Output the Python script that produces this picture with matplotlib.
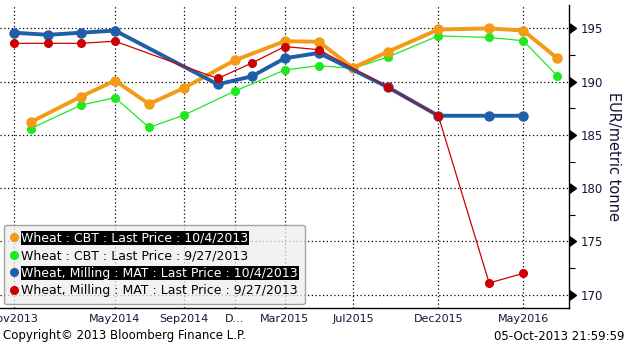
import matplotlib
matplotlib.use("Agg")
import matplotlib.pyplot as plt
import matplotlib.dates as mdates
from matplotlib.lines import Line2D
from matplotlib.markers import CARETRIGHTBASE
import numpy as np
import pandas as pd

# ---- data ----
cbt_dates = ["2013-12-01", "2014-03-01", "2014-05-01", "2014-07-01", "2014-09-01",
             "2014-12-01", "2015-03-01", "2015-05-01", "2015-07-01", "2015-09-01",
             "2015-12-01", "2016-03-01", "2016-05-01", "2016-07-01"]
cbt_1004 = [186.2, 188.6, 190.1, 187.9, 189.4, 192.0, 193.8, 193.75, 191.3, 192.8,
            194.9, 195.0, 194.8, 192.2]
cbt_0927 = [185.6, 187.8, 188.5, 185.7, 186.85, 189.1, 191.1, 191.5, 191.25, 192.3,
            194.3, 194.15, 193.85, 190.55]

mat_dates = ["2013-11-01", "2014-01-01", "2014-03-01", "2014-05-01", "2014-11-01",
             "2015-01-01", "2015-03-01", "2015-05-01", "2015-09-01", "2015-12-01",
             "2016-03-01", "2016-05-01"]
mat_1004 = [194.6, 194.4, 194.6, 194.8, 189.75, 190.5, 192.2, 192.7, 189.5, 186.8,
            186.8, 186.8]
mat_0927 = [193.6, 193.6, 193.6, 193.8, 190.3, 191.75, 193.3, 193.0, 189.5, 186.8,
            171.1, 172.0]

labels = ["Wheat : CBT : Last Price : 10/4/2013",
          "Wheat : CBT : Last Price : 9/27/2013",
          "Wheat, Milling : MAT : Last Price : 10/4/2013",
          "Wheat, Milling : MAT : Last Price : 9/27/2013"]

xtick_dates = ["2013-11-01", "2014-05-01", "2014-09-01", "2014-12-01", "2015-03-01",
               "2015-07-01", "2015-12-01", "2016-05-01"]
xtick_labels = ["Nov2013", "May2014", "Sep2014", "D...", "Mar2015", "Jul2015",
                "Dec2015", "May2016"]
ytick_major = [170, 175, 180, 185, 190, 195]
ytick_minor = [172.5, 177.5, 182.5, 187.5, 192.5]

# ---- style ----
c_orange = "#f39a16"
c_green = "#1ee81e"
c_blue = "#1f5fa8"
c_red = "#cc0000"
txt_color = "#141438"

fig = plt.figure(figsize=(6.28, 3.48), dpi=100)
ax = fig.add_axes([0.0, 1 - 308 / 348, 569 / 628, 303 / 348])

cd = pd.to_datetime(cbt_dates)
md = pd.to_datetime(mat_dates)

ax.plot(cd, cbt_0927, color=c_green, lw=0.9, marker="o", ms=5.5, zorder=3)
ax.plot(cd, cbt_1004, color=c_orange, lw=2.8, marker="o", ms=6.5, zorder=4)
ax.plot(md, mat_1004, color=c_blue, lw=2.8, marker="o", ms=6.5, zorder=5)
ax.plot(md, mat_0927, color=c_red, lw=0.9, marker="o", ms=5.5, zorder=6)

ax.set_xlim(pd.Timestamp("2013-10-07"), pd.Timestamp("2016-07-22"))
ax.set_ylim(168.75, 197.2)

ax.set_xticks(pd.to_datetime(xtick_dates))
ax.set_xticklabels(xtick_labels)
ax.set_yticks(ytick_major)
ax.set_yticks(ytick_minor, minor=True)
ax.yaxis.tick_right()
ax.yaxis.set_label_position("right")

ax.tick_params(axis="x", length=0, pad=4, labelsize=8, labelcolor=txt_color)
ax.tick_params(axis="y", which="major", length=0, pad=8.5, labelsize=8.5,
               labelcolor=txt_color)
ax.tick_params(axis="y", which="minor", length=4, width=0.8, color="black",
               direction="out")

for s in ["left", "top"]:
    ax.spines[s].set_visible(False)
for s in ["right", "bottom"]:
    ax.spines[s].set_color("black")
    ax.spines[s].set_linewidth(1.0)

ax.grid(True, which="major", color="black", linestyle=(0, (1.0, 2.0)), linewidth=0.9)
ax.set_axisbelow(True)

# arrow-shaped major ticks on the right axis
ax.plot(np.ones(len(ytick_major)), ytick_major, transform=ax.get_yaxis_transform(),
        linestyle="none", marker=CARETRIGHTBASE, ms=6.5, color="black", clip_on=False,
        zorder=10)

ax.set_ylabel("EUR/metric tonne", rotation=270, labelpad=13, fontsize=10.5,
              color=txt_color)

handles = [Line2D([], [], linestyle="none", marker="o", ms=5.5, color=c)
           for c in [c_orange, c_green, c_blue, c_red]]
leg = ax.legend(handles, labels, loc="lower left", bbox_to_anchor=(0.007, 0.013),
                borderaxespad=0, fontsize=9, handlelength=0.5, handletextpad=0.35,
                labelspacing=0.36, borderpad=0.55, fancybox=True, framealpha=0.75,
                facecolor="#eeeeee", edgecolor="#888888")
leg.get_frame().set_linewidth(1.0)
leg.set_zorder(20)
for i, t in enumerate(leg.get_texts()):
    if i in (0, 2):
        t.set_color("white")
        t.set_bbox(dict(facecolor="black", edgecolor="none", pad=0.5))
    else:
        t.set_color("black")

fig.text(3 / 628, 1 - 336 / 348, "Copyright\u00a9 2013 Bloomberg Finance L.P.",
         fontsize=8.5, color="black", ha="left", va="center")
fig.text(624 / 628, 1 - 336 / 348, "05-Oct-2013 21:59:59",
         fontsize=8.5, color="black", ha="right", va="center")

fig.savefig("out.png", dpi=100, facecolor="white")
